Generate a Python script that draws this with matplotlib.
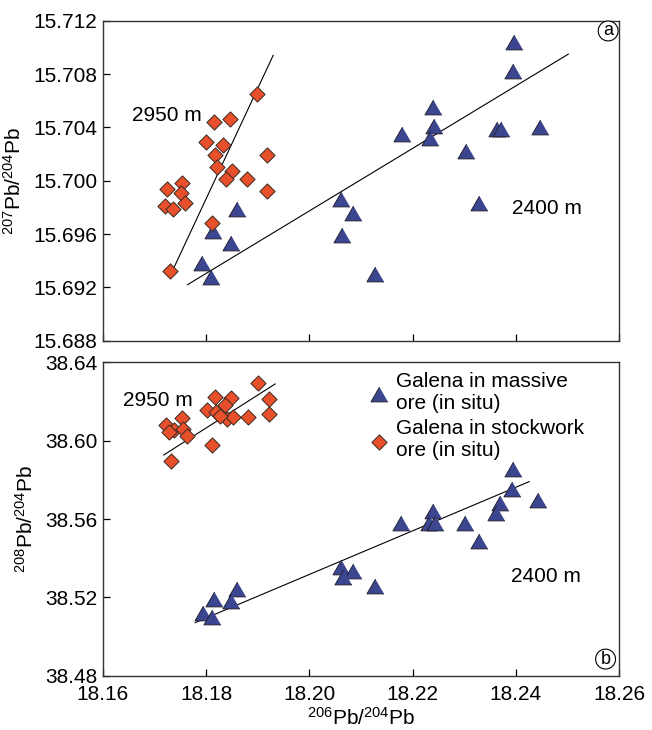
import matplotlib
matplotlib.use("Agg")
import matplotlib.pyplot as plt

plt.rcParams['font.family'] = ['Liberation Sans', 'DejaVu Sans']
plt.rcParams['mathtext.fontset'] = 'custom'
plt.rcParams['mathtext.rm'] = 'Liberation Sans'
plt.rcParams['mathtext.it'] = 'Liberation Sans:italic'

# ---------- data ----------
# massive ore (triangles)
tri_x_a = [18.1859, 18.1813, 18.1848, 18.1793, 18.1809, 18.2062, 18.2084, 18.2064,
           18.2397, 18.2394, 18.2240, 18.2241, 18.2179, 18.2234, 18.2363, 18.2372,
           18.2446, 18.2303, 18.2329, 18.2128]
tri_y_a = [15.6979, 15.6962, 15.6953, 15.6938, 15.6928, 15.6986, 15.6976, 15.6959,
           15.7104, 15.7082, 15.7055, 15.7041, 15.7035, 15.7032, 15.7039, 15.7039,
           15.7040, 15.7022, 15.6983, 15.6930]
tri_x_b = [18.1859, 18.1848, 18.1815, 18.1795, 18.1811, 18.2062, 18.2085, 18.2066,
           18.2395, 18.2392, 18.2370, 18.2361, 18.2444, 18.2240, 18.2231, 18.2243,
           18.2177, 18.2301, 18.2328, 18.2128]
tri_y_b = [38.5241, 38.5183, 38.5190, 38.5122, 38.5101, 38.5357, 38.5336, 38.5302,
           38.5857, 38.5752, 38.5683, 38.5632, 38.5697, 38.5640, 38.5581, 38.5578,
           38.5578, 38.5578, 38.5486, 38.5260]

# stockwork ore (diamonds)
dia_x_a = [18.1899, 18.1816, 18.1846, 18.1799, 18.1833, 18.1818, 18.1919, 18.1822,
           18.1851, 18.1839, 18.1880, 18.1919, 18.1753, 18.1725, 18.1752, 18.1720,
           18.1735, 18.1760, 18.1811, 18.1730]
dia_y_a = [15.7065, 15.7044, 15.7046, 15.7029, 15.7027, 15.7019, 15.7019, 15.7010,
           15.7007, 15.7001, 15.7001, 15.6992, 15.6998, 15.6994, 15.6991, 15.6981,
           15.6979, 15.6983, 15.6968, 15.6932]
dia_x_b = [18.1900, 18.1818, 18.1848, 18.1922, 18.1836, 18.1802, 18.1820, 18.1754,
           18.1840, 18.1853, 18.1882, 18.1922, 18.1827, 18.1722, 18.1737, 18.1728,
           18.1755, 18.1764, 18.1811, 18.1733]
dia_y_b = [38.6296, 38.6222, 38.6218, 38.6211, 38.6181, 38.6157, 38.6147, 38.6116,
           38.6109, 38.6120, 38.6120, 38.6136, 38.6126, 38.6079, 38.6055, 38.6045,
           38.6058, 38.6024, 38.5978, 38.5896]

# regression line end points
fit_2950_a = ([18.1738, 18.1930], [15.6935, 15.7094])
fit_2400_a = ([18.1764, 18.2502], [15.6922, 15.7095])
fit_2950_b = ([18.1718, 18.1934], [38.5927, 38.6290])
fit_2400_b = ([18.1779, 18.2426], [38.5071, 38.5791])

x_ticks = [18.16, 18.18, 18.20, 18.22, 18.24, 18.26]
y_ticks_a = [15.688, 15.692, 15.696, 15.700, 15.704, 15.708, 15.712]
y_ticks_b = [38.48, 38.52, 38.56, 38.60, 38.64]

BLUE = '#3c4690'
RED = '#e8502c'
FS = 15
tri_marker = [(0, 0.866), (-1, -0.866), (1, -0.866)]

fig = plt.figure(figsize=(6.52, 7.3), dpi=100)
ax_a = fig.add_axes([0.1577, 0.5333, 0.7917, 0.4383])
ax_b = fig.add_axes([0.1577, 0.0744, 0.7917, 0.4292])


def style_axes(ax, yticks, yfmt):
    ax.set_xlim(18.16, 18.26)
    ax.set_ylim(yticks[0], yticks[-1])
    ax.set_xticks(x_ticks)
    ax.set_yticks(yticks)
    ax.set_yticklabels([yfmt.format(v) for v in yticks])
    ax.tick_params(direction='in', length=5, width=0.9, labelsize=FS, pad=4)
    ax.tick_params(axis='x', pad=7)
    for sp in ax.spines.values():
        sp.set_linewidth(1.0)
        sp.set_color('#333333')


for ax, tx, ty, dx, dy, f1, f2 in [
        (ax_a, tri_x_a, tri_y_a, dia_x_a, dia_y_a, fit_2950_a, fit_2400_a),
        (ax_b, tri_x_b, tri_y_b, dia_x_b, dia_y_b, fit_2950_b, fit_2400_b)]:
    ax.plot(*f1, color='black', lw=0.8, zorder=1)
    ax.plot(*f2, color='black', lw=0.8, zorder=1)
    ax.scatter(dx, dy, marker='D', s=60, c=RED, edgecolors='#3a2a22', linewidths=0.7,
               zorder=3, label='Galena in stockwork\nore (in situ)')
    ax.scatter(tx, ty, marker=tri_marker, s=150, c=BLUE, edgecolors='#222233', linewidths=0.7,
               zorder=2, label='Galena in massive\nore (in situ)')

style_axes(ax_a, y_ticks_a, '{:.3f}')
style_axes(ax_b, y_ticks_b, '{:.2f}')
ax_a.set_xticklabels([])
ax_b.set_xticklabels(['{:.2f}'.format(v) for v in x_ticks])

ax_a.set_ylabel(r'$^{207}$Pb/$^{204}$Pb', fontsize=FS, labelpad=6)
ax_b.set_ylabel(r'$^{208}$Pb/$^{204}$Pb', fontsize=FS, labelpad=6)
ax_b.set_xlabel(r'$^{206}$Pb/$^{204}$Pb', fontsize=FS, labelpad=2)

# depth annotations
ax_a.text(18.1724, 15.7049, '2950 m', fontsize=FS, ha='center', va='center')
ax_a.text(18.2460, 15.6979, '2400 m', fontsize=FS, ha='center', va='center')
ax_b.text(18.1707, 38.6203, '2950 m', fontsize=FS, ha='center', va='center')
ax_b.text(18.2458, 38.5309, '2400 m', fontsize=FS, ha='center', va='center')

# panel letters
circ = dict(boxstyle='circle,pad=0.08', fc='white', ec='black', lw=0.8)
ax_a.text(0.979, 0.968, 'a', transform=ax_a.transAxes, fontsize=13,
          ha='center', va='center', bbox=circ)
ax_b.text(0.974, 0.053, 'b', transform=ax_b.transAxes, fontsize=13,
          ha='center', va='center', bbox=circ)

handles, labels = ax_b.get_legend_handles_labels()
ax_b.legend(handles[::-1], labels[::-1], loc='upper left', bbox_to_anchor=(0.514, 0.97),
            frameon=False, fontsize=FS, borderpad=0, borderaxespad=0,
            handlelength=1.0, handletextpad=0.35, labelspacing=0.3, scatterpoints=1)

fig.savefig('out.png', dpi=100)
